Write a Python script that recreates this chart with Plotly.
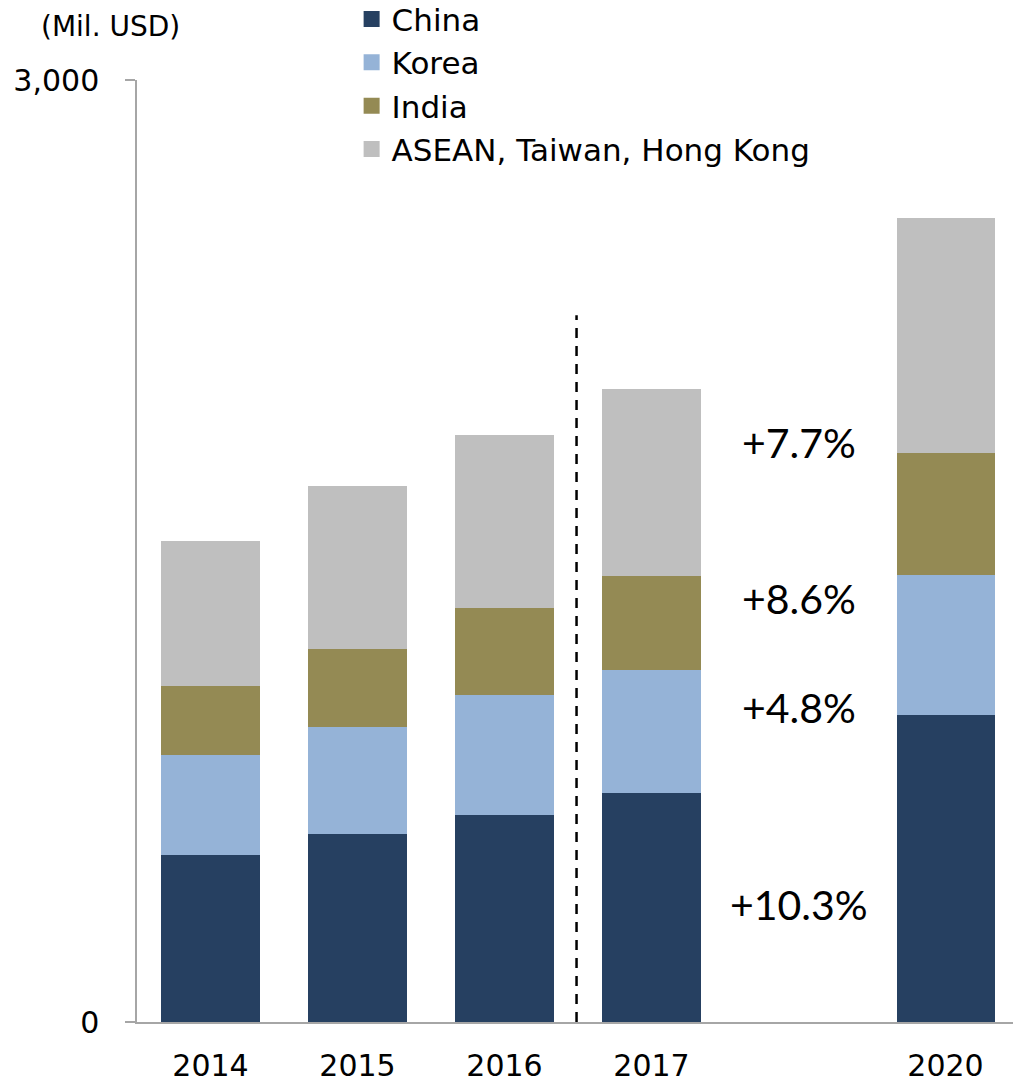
import plotly.graph_objects as go

years = ["2014", "2015", "2016", "2017", " ", "2020"]
china = [532, 599, 659, 729, None, 978]
korea = [318, 340, 382, 392, None, 446]
india = [220, 249, 277, 299, None, 388]
asean = [462, 519, 551, 596, None, 749]
series_names = ["China", "Korea", "India", "ASEAN, Taiwan, Hong Kong"]
colors = ["#264061", "#95B3D7", "#948A54", "#BFBFBF"]
growth_labels = ["+10.3%", "+4.8%", "+8.6%", "+7.7%"]

fig = go.Figure()
for name, vals, col in zip(series_names, [china, korea, india, asean], colors):
    fig.add_trace(go.Bar(x=years, y=vals, name=name, marker=dict(color=col, line=dict(width=0)),
                         showlegend=False))
# legend entries with larger square symbols
for name, col in zip(series_names, colors):
    fig.add_trace(go.Scatter(x=[None], y=[None], mode="markers", name=name,
                             marker=dict(symbol="square", size=20, color=col)))

# growth annotations placed in the empty slot
label_y = [373, 1003, 1350, 1844]
for txt, yy in zip(growth_labels, label_y):
    fig.add_annotation(x=4, y=yy, xref="x", yref="y", text=txt, showarrow=False,
                       font=dict(family="Lato", size=41, color="black"))

fig.add_annotation(x=(110 - 137) / 876, y=(1022 - 27) / 942, xref="paper", yref="paper",
                   xanchor="center", yanchor="middle",
                   text="(Mil. USD)", showarrow=False,
                   font=dict(family="DejaVu Sans", size=28, color="black"))

fig.add_shape(type="line", x0=2.49, x1=2.49, y0=0, y1=2251, xref="x", yref="y",
              line=dict(color="black", width=2.5, dash="10px,8px"))

fig.update_layout(
    width=1013, height=1083,
    margin=dict(l=137, r=0, t=80, b=61, autoexpand=False),
    paper_bgcolor="white", plot_bgcolor="white",
    barmode="stack", bargap=0.333,
    font=dict(family="DejaVu Sans", size=29, color="black"),
    legend=dict(x=0.245, y=1.093, xanchor="left", yanchor="top", traceorder="normal",
                font=dict(family="DejaVu Sans", size=31, color="black"),
                bgcolor="rgba(0,0,0,0)", itemclick=False, tracegroupgap=0),
    xaxis=dict(type="category", categoryorder="array", categoryarray=years,
               range=[-0.5, 5.459], showline=True, linecolor="#A6A6A6", linewidth=1.5,
               ticks="", showgrid=False, zeroline=False, automargin=False,
               tickfont=dict(family="DejaVu Sans", size=30), ticklabelstandoff=16),
    yaxis=dict(range=[0, 3000], tickvals=[0, 3000], ticktext=["0", "3,000"],
               showline=True, linecolor="#A6A6A6", linewidth=1.5, automargin=False,
               ticks="outside", ticklen=10, tickcolor="#A6A6A6", tickwidth=1.5,
               showgrid=False, zeroline=False,
               tickfont=dict(family="DejaVu Sans", size=30), ticklabelstandoff=20),
)

fig.write_html("out.html")
